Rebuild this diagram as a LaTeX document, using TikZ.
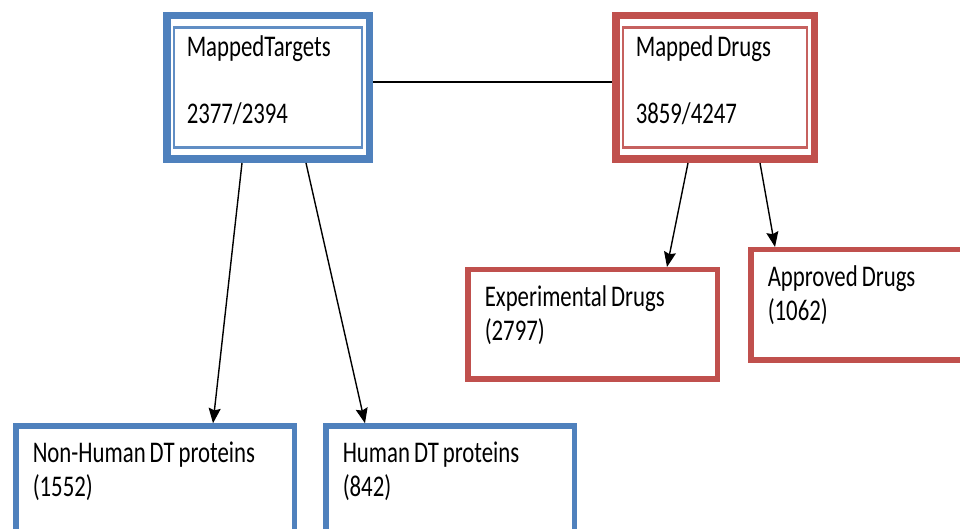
\documentclass[tikz,border=0pt]{standalone}
\usepackage{fontspec}
\setmainfont{Carlito}[FakeStretch=0.76]
\usetikzlibrary{positioning,arrows.meta}
\definecolor{mapblue}{HTML}{4F81BD}
\definecolor{mapred}{HTML}{C0504D}

\begin{document}
\begin{tikzpicture}[x=1pt,y=1pt,
  every node/.style={font=\fontsize{30}{33.5}\selectfont, align=flush left, fill=white,
    execute at begin node={\spaceskip=4pt\relax}},
  mapbox/.style={draw, line width=7.5pt, inner xsep=20pt, inner ysep=0pt, text height=41.25pt, text depth=102.25pt},
  leafbox/.style={draw, line width=5.5pt, inner xsep=17pt, inner ysep=0pt, text height=37pt},
  rimline/.style={line width=2.2pt},
  joinline/.style={line width=1.4pt},
  tolink/.style={joinline, -{Stealth[length=15pt,width=12pt,inset=2pt]}}]
\useasboundingbox (0,0) rectangle (960,529);
\clip (0,0) rectangle (960,529);

% mapped sets
\node[mapbox, draw=mapblue, text width=162.5pt, anchor=base west] (tgt) at (163,472) {MappedTargets\\[33.5pt]2377/2394};
\node[mapbox, draw=mapred, text width=158.5pt, right=239pt of tgt] (drg) {Mapped Drugs\\[33.5pt]3859/4247};
\draw[rimline, mapblue!90] ([shift={(11pt,-15.5pt)}]tgt.north west) rectangle ([shift={(-11pt,15.5pt)}]tgt.south east);
\draw[rimline, mapred!90] ([shift={(11pt,-15.5pt)}]drg.north west) rectangle ([shift={(-11pt,15.5pt)}]drg.south east);

% subsets
\node[leafbox, draw=mapred, text width=215.5pt, text depth=72.5pt, anchor=base west] (exp) at (465,222.3) {Experimental Drugs\\(2797)};
\node[leafbox, draw=mapred, text width=205pt, text depth=73.5pt, anchor=base west] (apr) at (748,242.3) {Approved Drugs\\(1062)};
\node[leafbox, draw=mapblue, text width=244.5pt, text depth=100pt, anchor=base west] (nhu) at (13,66) {Non-Human DT proteins\\(1552)};
\node[leafbox, draw=mapblue, text width=214.5pt, text depth=100pt, right=26pt of nhu] (hum) {Human DT proteins\\(842)};

\draw[joinline] ([yshift=5.5pt]tgt.east) -- ([yshift=5.5pt]drg.west);
\draw[tolink] ([xshift=-26pt]tgt.south) -- ([xshift=58pt]nhu.north);
\draw[tolink] ([xshift=38pt]tgt.south) -- ([xshift=-85pt]hum.north);
\draw[tolink] ([xshift=-27pt]drg.south) -- ([xshift=74.5pt]exp.north);
\draw[tolink] ([xshift=45pt]drg.south) -- ([xshift=27pt]apr.north west);
\end{tikzpicture}
\end{document}
